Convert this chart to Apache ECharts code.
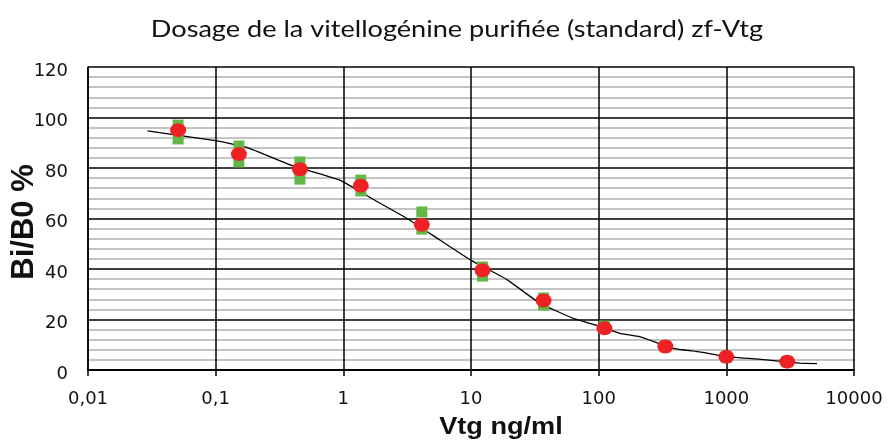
<!DOCTYPE html>
<html><head><meta charset="utf-8">
<script src="https://cdn.jsdelivr.net/npm/echarts@6/dist/echarts.min.js"></script>
<style>html,body{margin:0;padding:0;background:#fff}#c{width:890px;height:441px}</style>
</head><body><div id="c"></div>
<script>
const conc = [0.0508, 0.152, 0.457, 1.37, 4.12, 12.3, 37, 111, 333, 1000, 3000];
const meanBiB0 = [95, 85.5, 79.5, 73, 57.5, 39.5, 27.5, 16.5, 9.3, 5.2, 3.3];
const rep1 = [97, 88.7, 82.4, 75.2, 62.6, 40.8, 28.5, 17.4, 9.5, 5.3, 3.4];
const rep2 = [91.5, 82.4, 75.6, 70.9, 55.8, 37.2, 25.7, 16.6, 9.1, 5.1, 3.2];
const fitX = [0.0293, 0.1, 0.175, 0.405, 0.94, 1.71, 3.13, 5.7, 9.9, 19, 34.7, 63, 100, 147, 209, 383, 618, 1000, 2065, 3760, 5140];
const fitY = [94.7, 90.8, 88.2, 80.8, 75.2, 67.6, 60.1, 51.5, 43.6, 35.9, 26.4, 20.5, 17.4, 14.5, 13.2, 8.6, 7.2, 5.3, 4.0, 2.7, 2.5];
const xTickLabels = {'-2':'0,01','-1':'0,1','0':'1','1':'10','2':'100','3':'1000','4':'10000'};

const chart = echarts.init(document.getElementById('c'), null, {renderer:'canvas'});
const greens = [];
conc.forEach((x,i)=>{greens.push([x,rep1[i]]);greens.push([x,rep2[i]]);});
chart.setOption({
  animation:false,
  grid:{left:88,right:36,top:67,bottom:71},
  graphic:[
    {type:'text',x:457,y:29,scaleX:1.13,style:{text:'Dosage de la vitellogénine purifiée (standard) zf-Vtg',font:'24px Lato, "Open Sans", sans-serif',fill:'#111',align:'center',verticalAlign:'middle'}},
    {type:'text',x:501,y:427,scaleX:1.13,style:{text:'Vtg ng/ml',font:'bold 24px "Liberation Sans", Arial, sans-serif',fill:'#111',align:'center',verticalAlign:'middle'}},
    {type:'text',x:24,y:222,rotation:Math.PI/2,style:{text:'Bi/B0 %',font:'bold 31px "Liberation Sans", Arial, sans-serif',fill:'#111',align:'center',verticalAlign:'middle'}}
  ],
  xAxis:{type:'log',logBase:10,min:0.01,max:10000,
    axisLine:{show:true,lineStyle:{color:'#000',width:2}},
    axisTick:{show:true,length:6,lineStyle:{color:'#000',width:1.5}},
    axisLabel:{color:'#111',fontSize:18,fontFamily:'"DejaVu Sans", sans-serif',margin:20,
      formatter:v=>{const k=Math.round(Math.log10(v));return xTickLabels[String(k)]||'';}},
    splitLine:{show:true,lineStyle:{color:'#000',width:1.5}},
    minorTick:{show:false},minorSplitLine:{show:false}},
  yAxis:{type:'value',min:0,max:120,interval:20,
    axisLine:{show:true,lineStyle:{color:'#000',width:1.5}},
    axisTick:{show:false},
    axisLabel:{margin:20,formatter:v=>'{a|'+v+'}',
      rich:{a:{color:'#111',fontSize:18,fontFamily:'"DejaVu Sans", sans-serif',padding:[8,0,0,0]}}},
    splitLine:{show:true,lineStyle:{color:'#000',width:1.5}},
    minorTick:{show:false,splitNumber:5},
    minorSplitLine:{show:true,lineStyle:{color:'#c4c4c4',width:2}}},
  series:[
    {type:'line',data:fitX.map((x,i)=>[x,fitY[i]]),showSymbol:false,symbol:'none',smooth:0.12,lineStyle:{color:'#000',width:1.3},z:3},
    {type:'scatter',data:greens,symbol:'rect',symbolSize:[11,11],itemStyle:{color:'#62b846',opacity:1},z:4},
    {type:'scatter',data:conc.map((x,i)=>[x,meanBiB0[i]]),symbol:'circle',symbolSize:[16,14],itemStyle:{color:'#ee2224',opacity:1},z:5}
  ]
});
</script></body></html>
